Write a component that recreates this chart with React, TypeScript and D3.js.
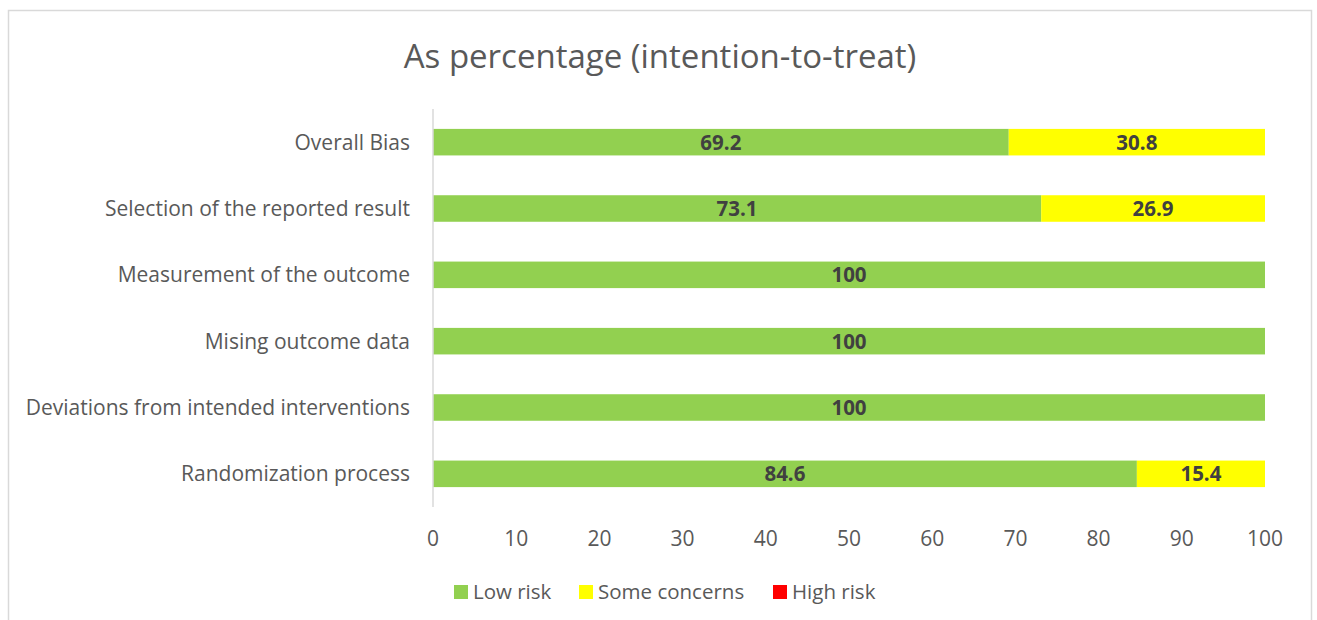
import React from "react";
import * as d3 from "d3";

const categories = [
  "Overall Bias",
  "Selection of the reported result",
  "Measurement of the outcome",
  "Mising outcome data",
  "Deviations from intended interventions",
  "Randomization process",
];
const lowRisk = [69.2, 73.1, 100, 100, 100, 84.6];
const someConcerns = [30.8, 26.9, 0, 0, 0, 15.4];
const highRisk = [0, 0, 0, 0, 0, 0];
const seriesNames = ["Low risk", "Some concerns", "High risk"];
const seriesColors = ["#92d050", "#ffff00", "#ff0000"];
const xTicks = [0, 10, 20, 30, 40, 50, 60, 70, 80, 90, 100];

const W = 1317;
const H = 620;
const FONT = "'Open Sans', sans-serif";

export default function App() {
  const x = d3.scaleLinear().domain([0, 100]).range([433, 1265]);
  const y = d3.scaleBand().domain(categories).range([109, 507]).paddingInner(0.6).paddingOuter(0.3);
  const rows = categories.map((c, i) => ({ cat: c, v: [lowRisk[i], someConcerns[i], highRisk[i]] }));
  const stack = d3.stack<any>().keys([0, 1, 2] as any).value((d: any, k: any) => d.v[k]);
  const stacked = stack(rows as any);
  const legendX = [454, 579, 773];

  return (
    <svg width={W} height={H} style={{ position: "absolute", left: 0, top: 0, background: "#fff" }} fontFamily={FONT}>
      <rect x={8.5} y={10.5} width={1303} height={640} fill="#fff" stroke="#d9d9d9" strokeWidth={1.5} />
      <text x={660} y={68} textAnchor="middle" fontSize={33} fill="#595959">
        As percentage (intention-to-treat)
      </text>
      {stacked.map((s: any, si: number) =>
        s.map((d: any, i: number) => {
          const w = x(d[1]) - x(d[0]);
          if (w <= 0) return null;
          return (
            <rect key={`${si}-${i}`} x={x(d[0])} y={y(categories[i])} width={w} height={y.bandwidth()} fill={seriesColors[si]} />
          );
        })
      )}
      {stacked.map((s: any, si: number) =>
        s.map((d: any, i: number) => {
          const val = d[1] - d[0];
          if (val <= 0) return null;
          return (
            <text key={`l${si}-${i}`} x={(x(d[0]) + x(d[1])) / 2} y={y(categories[i])! + y.bandwidth() / 2} dy="0.36em"
              textAnchor="middle" fontSize={20.5} fontWeight="bold" fill="#404040">
              {val.toFixed(1).replace(/\.0$/, "")}
            </text>
          );
        })
      )}
      <line x1={433} x2={433} y1={109} y2={507} stroke="#d9d9d9" strokeWidth={1.5} />
      {categories.map((c) => (
        <text key={c} x={410} y={y(c)! + y.bandwidth() / 2} dy="0.36em" textAnchor="end" fontSize={21} fill="#595959">
          {c}
        </text>
      ))}
      {xTicks.map((t) => (
        <text key={t} x={x(t)} y={538} dy="0.36em" textAnchor="middle" fontSize={21} fill="#595959">
          {t}
        </text>
      ))}
      {seriesNames.map((n, i) => (
        <g key={n}>
          <rect x={legendX[i]} y={585} width={14} height={14} fill={seriesColors[i]} />
          <text x={legendX[i] + 19} y={592} dy="0.36em" fontSize={20.5} fill="#595959">
            {n}
          </text>
        </g>
      ))}
    </svg>
  );
}
